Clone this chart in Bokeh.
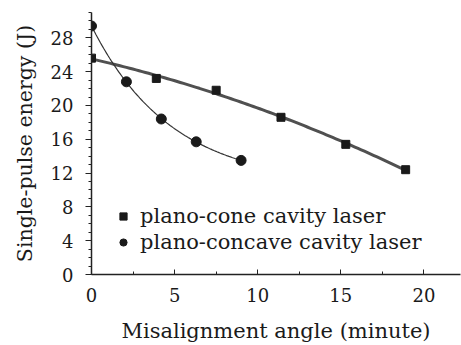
import numpy as np
from bokeh.plotting import figure
from bokeh.models import Range1d, Legend, LegendItem, FixedTicker
from bokeh.embed import file_html
from bokeh.resources import INLINE

# Data
cone_x = [0.0, 3.9, 7.5, 11.4, 15.3, 18.9]
cone_y = [25.6, 23.2, 21.8, 18.6, 15.4, 12.4]
concave_x = [0.0, 2.1, 4.2, 6.3, 9.0]
concave_y = [29.4, 22.8, 18.4, 15.7, 13.5]

x_ticks = [0, 5, 10, 15, 20]
y_ticks = [0, 4, 8, 12, 16, 20, 24, 28]
legend_labels = ["plano-cone cavity laser", "plano-concave cavity laser"]

FONT = "DejaVu Serif"
INK = "#1a1a1a"

# fitted trend curves derived from the data
cx = np.array(cone_x); cy = np.array(cone_y)
cone_coef = np.polyfit(cx, cy, 2)
cone_fx = np.linspace(cx.min(), cx.max(), 100)
cone_fy = np.polyval(cone_coef, cone_fx)

vx = np.array(concave_x); vy = np.array(concave_y)
best = None
for c in np.linspace(0.5, 20, 400):
    A = np.vstack([np.ones_like(vx), np.exp(-vx / c)]).T
    sol, res, *_ = np.linalg.lstsq(A, vy, rcond=None)
    err = np.sum((A @ sol - vy) ** 2)
    if best is None or err < best[0]:
        best = (err, c, sol)
_, cbest, (a0, b0) = best
conc_fx = np.linspace(vx.min(), vx.max(), 100)
conc_fy = a0 + b0 * np.exp(-conc_fx / cbest)

p = figure(width=461, height=345, output_backend="svg", toolbar_location=None,
           x_range=Range1d(0, 22.2), y_range=Range1d(0, 31),
           min_border_left=91, min_border_right=1, min_border_top=12, min_border_bottom=71)
p.outline_line_color = None
p.xgrid.visible = False
p.ygrid.visible = False
p.background_fill_color = "white"
p.border_fill_color = "white"

p.line(cone_fx, cone_fy, line_color="#505050", line_width=3)
p.line(conc_fx, conc_fy, line_color="#333333", line_width=1.2)
r1 = p.scatter(cone_x, cone_y, marker="square", size=8, color=INK)
r2 = p.scatter(concave_x, concave_y, marker="circle", size=10, color=INK)

xa = p.xaxis[0]
xa.ticker = FixedTicker(ticks=x_ticks, minor_ticks=[2.5, 7.5, 12.5, 17.5])
xa.axis_label = "Misalignment angle (minute)"
xa.major_tick_in = 5
xa.major_tick_out = 0
xa.minor_tick_in = 3
xa.minor_tick_out = 0

ya = p.yaxis[0]
ya.ticker = FixedTicker(ticks=y_ticks, minor_ticks=list(range(0, 32)))
ya.axis_label = "Single-pulse energy (J)"
ya.major_tick_in = 0
ya.major_tick_out = 6
ya.minor_tick_in = 0
ya.minor_tick_out = 3

for ax in (xa, ya):
    ax.axis_line_color = "#222222"
    ax.axis_line_width = 1.5
    ax.major_tick_line_color = "#222222"
    ax.minor_tick_line_color = "#222222"
    ax.major_label_text_font = FONT
    ax.major_label_text_font_size = "18px"
    ax.major_label_text_color = INK
    ax.axis_label_text_font = FONT
    ax.axis_label_text_font_style = "normal"
    ax.axis_label_text_color = INK

xa.axis_label_text_font_size = "21px"
ya.axis_label_text_font_size = "20.5px"
xa.major_label_standoff = 13
xa.axis_label_standoff = 14
ya.major_label_standoff = 12
ya.axis_label_standoff = 11

legend = Legend(items=[LegendItem(label=legend_labels[0], renderers=[r1]),
                       LegendItem(label=legend_labels[1], renderers=[r2])],
                location=(23, 20), padding=0, margin=0, spacing=2,
                glyph_width=18, glyph_height=18, label_height=22, label_standoff=8,
                label_text_font=FONT, label_text_font_size="21px", label_text_color=INK,
                border_line_color=None, background_fill_alpha=0)
p.add_layout(legend, "center")

open("out.html", "w").write(file_html(p, INLINE))
